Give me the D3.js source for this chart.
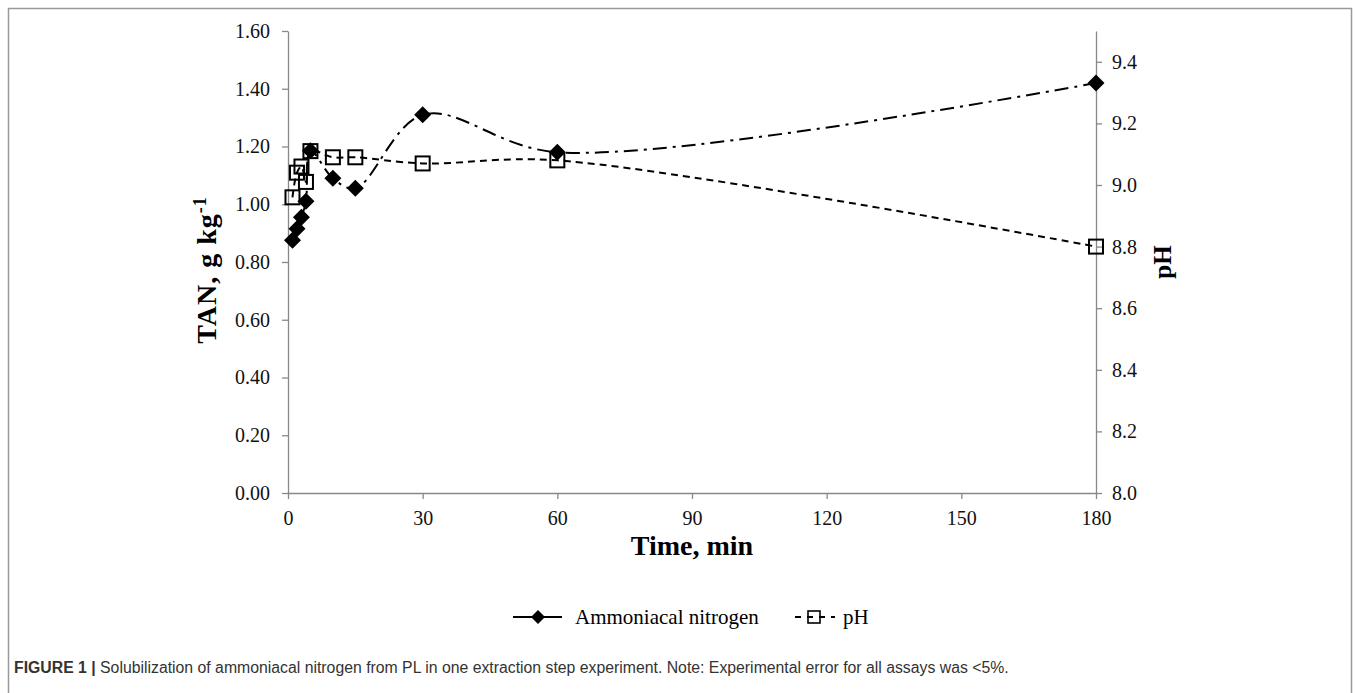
<!DOCTYPE html>
<html><head><meta charset="utf-8">
<script src="https://cdn.jsdelivr.net/npm/d3@7"></script>
<style>body{margin:0;background:#fff}svg{display:block}</style>
</head><body>
<script>
const times = [1, 2, 3, 4, 5, 10, 15, 30, 60, 180];
const tanValues = [0.875, 0.915, 0.955, 1.01, 1.185, 1.09, 1.055, 1.31, 1.18, 1.42];
const phValues = [8.96, 9.04, 9.06, 9.01, 9.11, 9.09, 9.09, 9.07, 9.08, 8.80];
const xTicks = [0, 30, 60, 90, 120, 150, 180];
const leftTicks = [0, 0.2, 0.4, 0.6, 0.8, 1.0, 1.2, 1.4, 1.6];
const rightTicks = [8.0, 8.2, 8.4, 8.6, 8.8, 9.0, 9.2, 9.4];
const seriesNames = ["Ammoniacal nitrogen", "pH"];

const W = 1357, H = 693;
const svg = d3.select("body").append("svg").attr("width", W).attr("height", H);
const serif = "'Liberation Serif','Times New Roman',serif";
const axisColor = "#888";

svg.append("rect").attr("x", 8.5).attr("y", 8.5).attr("width", 1343).attr("height", 720)
  .attr("fill", "none").attr("stroke", "#999").attr("stroke-width", 1.5);

const x = d3.scaleLinear().domain([0, 180]).range([288, 1096]);
const yL = d3.scaleLinear().domain([0, 1.6]).range([493, 31]);
const yR = d3.scaleLinear().domain([8.0, 9.5]).range([493, 31]);

function styleAxis(g) {
  g.selectAll("path").attr("stroke", axisColor).attr("stroke-width", 1.3);
  g.selectAll("line").attr("stroke", axisColor).attr("stroke-width", 1.3);
  g.selectAll("text").attr("font-family", serif).attr("font-size", 20).attr("fill", "#111");
}

svg.append("g").attr("transform", "translate(288,0)")
  .call(d3.axisLeft(yL).tickValues(leftTicks).tickFormat(d3.format(".2f")).tickSize(6).tickSizeOuter(0).tickPadding(12))
  .call(styleAxis);
svg.append("g").attr("transform", "translate(1096,0)")
  .call(d3.axisRight(yR).tickValues(rightTicks).tickFormat(d3.format(".1f")).tickSize(6).tickSizeOuter(0).tickPadding(10))
  .call(styleAxis);
svg.append("g").attr("transform", "translate(0,493)")
  .call(d3.axisBottom(x).tickValues(xTicks).tickFormat(d3.format("d")).tickSize(6).tickSizeOuter(0).tickPadding(12))
  .call(styleAxis);

// Axis titles
svg.append("text").attr("x", 692).attr("y", 555).attr("text-anchor", "middle")
  .attr("font-family", serif).attr("font-weight", "bold").attr("font-size", 28).text("Time, min");
const tl = svg.append("text").attr("transform", "translate(216,270) rotate(-90)").attr("text-anchor", "middle")
  .attr("font-family", serif).attr("font-weight", "bold").attr("font-size", 28).attr("letter-spacing", 1);
tl.append("tspan").text("TAN, g kg");
tl.append("tspan").attr("dy", -10).attr("font-size", 18).text("-1");
svg.append("text").attr("transform", "translate(1171,262) rotate(-90)").attr("text-anchor", "middle")
  .attr("font-family", serif).attr("font-weight", "bold").attr("font-size", 25).text("pH");

// Lines
const tanData = times.map((t, i) => [t, tanValues[i]]);
const phData = times.map((t, i) => [t, phValues[i]]);
const lineL = d3.line().x(d => x(d[0])).y(d => yL(d[1])).curve(d3.curveCatmullRom.alpha(0.5));
const lineR = d3.line().x(d => x(d[0])).y(d => yR(d[1])).curve(d3.curveCatmullRom.alpha(0.5));

svg.append("path").attr("d", lineR(phData)).attr("fill", "none").attr("stroke", "#000")
  .attr("stroke-width", 2).attr("stroke-dasharray", "7,5");
svg.append("path").attr("d", lineL(tanData)).attr("fill", "none").attr("stroke", "#000")
  .attr("stroke-width", 2).attr("stroke-dasharray", "14,6,3,6");

function diamondPath(s) { return `M0,${-s}L${s},0L0,${s}L${-s},0Z`; }

svg.append("g").selectAll("rect").data(phData).join("rect")
  .attr("x", d => x(d[0]) - 7).attr("y", d => yR(d[1]) - 7).attr("width", 14).attr("height", 14)
  .attr("fill", "none").attr("stroke", "#000").attr("stroke-width", 2);
svg.append("g").selectAll("path").data(tanData).join("path")
  .attr("transform", d => `translate(${x(d[0])},${yL(d[1])})`)
  .attr("d", diamondPath(8.5)).attr("fill", "#000");

// Legend
const lg = svg.append("g");
lg.append("line").attr("x1", 513).attr("x2", 562).attr("y1", 617).attr("y2", 617).attr("stroke", "#000").attr("stroke-width", 2);
lg.append("path").attr("transform", "translate(538,617)").attr("d", diamondPath(7)).attr("fill", "#000");
lg.append("text").attr("x", 575).attr("y", 624).attr("font-family", serif).attr("font-size", 21).text(seriesNames[0]);
lg.append("line").attr("x1", 795).attr("x2", 835).attr("y1", 617).attr("y2", 617).attr("stroke", "#000").attr("stroke-width", 2).attr("stroke-dasharray", "6,6");
lg.append("rect").attr("x", 808).attr("y", 611).attr("width", 12).attr("height", 12).attr("fill", "none").attr("stroke", "#000").attr("stroke-width", 1.6);
lg.append("text").attr("x", 843).attr("y", 624).attr("font-family", serif).attr("font-size", 21).text(seriesNames[1]);

// Caption
const cap = svg.append("text").attr("x", 14).attr("y", 673).attr("font-family", "'Liberation Sans',Arial,sans-serif")
  .attr("font-size", 15.8).attr("fill", "#333");
cap.append("tspan").attr("font-weight", "bold").text("FIGURE 1 | ");
cap.append("tspan").text("Solubilization of ammoniacal nitrogen from PL in one extraction step experiment. Note: Experimental error for all assays was <5%.");
</script>
</body></html>
